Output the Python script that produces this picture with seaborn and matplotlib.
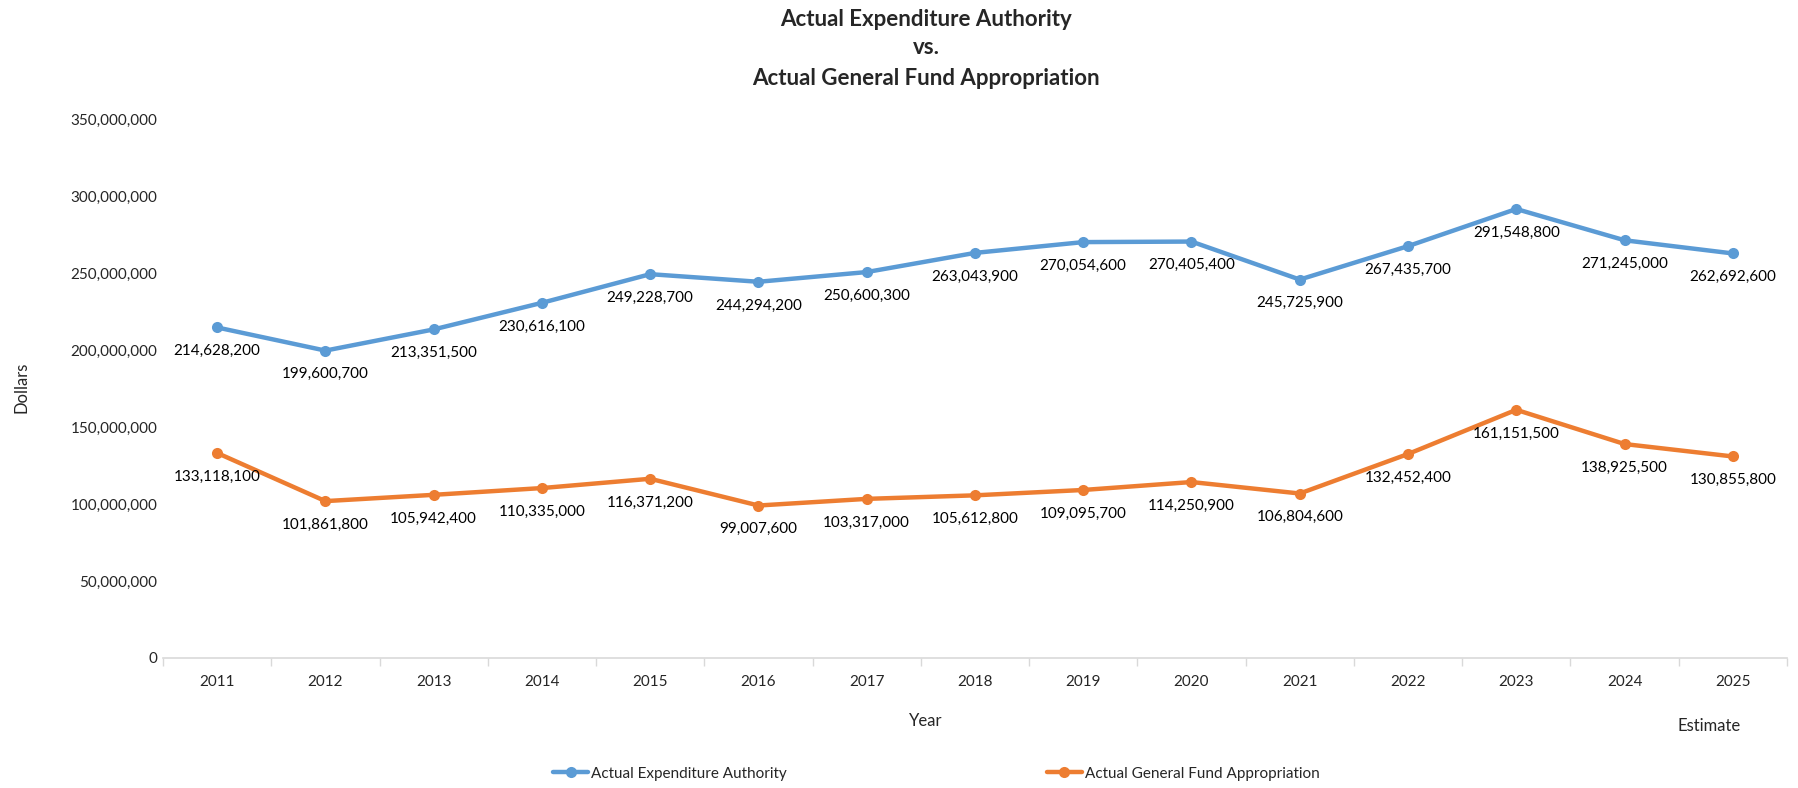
import matplotlib
matplotlib.use("Agg")
import matplotlib.pyplot as plt
from matplotlib.ticker import FuncFormatter, FixedLocator
import seaborn as sns
import pandas as pd

# datos del gráfico
years = ["2011", "2012", "2013", "2014", "2015", "2016", "2017", "2018",
         "2019", "2020", "2021", "2022", "2023", "2024", "2025"]
expenditure = [214628200, 199600700, 213351500, 230616100, 249228700, 244294200,
               250600300, 263043900, 270054600, 270405400, 245725900, 267435700,
               291548800, 271245000, 262692600]
general_fund = [133118100, 101861800, 105942400, 110335000, 116371200, 99007600,
                103317000, 105612800, 109095700, 114250900, 106804600, 132452400,
                161151500, 138925500, 130855800]
series_names = ["Actual Expenditure Authority", "Actual General Fund Appropriation"]
colors = ["#5B9BD5", "#ED7D31"]

sns.set_theme(style="white")
plt.rcParams["font.family"] = ["Lato", "DejaVu Sans"]

pos = list(range(len(years)))
df = pd.DataFrame({
    "pos": pos * 2,
    "valor": expenditure + general_fund,
    "serie": [series_names[0]] * len(years) + [series_names[1]] * len(years),
})

fig = plt.figure(figsize=(17.99, 7.88), dpi=100)
ax = fig.add_axes([0.0906, 0.165, 0.9027, 0.684])

sns.lineplot(data=df, x="pos", y="valor", hue="serie", palette=colors,
             marker="o", markersize=8, markeredgewidth=0, linewidth=3.2, ax=ax,
             legend=False)

# etiquetas de datos debajo de cada punto
for vals in (expenditure, general_fund):
    for x, v in zip(pos, vals):
        ax.annotate(f"{v:,}", (x, v), xytext=(0, -12), textcoords="offset points",
                    ha="center", va="top", fontsize=11, color="#000000")

ax.set_xlim(-0.5, len(years) - 0.5)
ax.set_ylim(0, 350000000)
ax.set_yticks(range(0, 350000001, 50000000))
ax.yaxis.set_major_formatter(FuncFormatter(lambda v, p: f"{int(v):,}"))
ax.set_xticks(pos)
ax.set_xticklabels(years)
ax.xaxis.set_minor_locator(FixedLocator([p - 0.5 for p in pos] + [len(years) - 0.5]))
ax.tick_params(axis="x", which="major", length=0, pad=12, labelsize=11)
ax.tick_params(axis="x", which="minor", length=6, width=1, color="#D9D9D9", bottom=True)
ax.tick_params(axis="y", length=0, pad=4, labelsize=11)

for side in ["top", "right", "left"]:
    ax.spines[side].set_visible(False)
ax.spines["bottom"].set_color("#D9D9D9")
ax.spines["bottom"].set_linewidth(1.2)

ax.set_xlabel("")
ax.set_ylabel("")
fig.text(0.5147, 0.085, "Year", ha="center", va="center", fontsize=12)
fig.text(0.0117, 0.509, "Dollars", ha="center", va="center", rotation=90, fontsize=12)
fig.text(0.950, 0.079, "Estimate", ha="center", va="center", fontsize=12)

fig.text(0.5147, 0.975, "Actual Expenditure Authority", ha="center", va="center",
         fontsize=16, fontweight="bold")
fig.text(0.5147, 0.940, "vs.", ha="center", va="center", fontsize=16, fontweight="bold")
fig.text(0.5147, 0.901, "Actual General Fund Appropriation", ha="center", va="center",
         fontsize=16, fontweight="bold")

# leyenda inferior
handles = [plt.Line2D([], [], color=c, marker="o", markersize=8, markeredgewidth=0,
                      linewidth=3.2) for c in colors]
fig.legend(handles, series_names, loc="center", bbox_to_anchor=(0.5206, 0.018),
           ncol=2, frameon=False, fontsize=11, columnspacing=17, handlelength=2.3,
           handletextpad=0.2)

fig.savefig("out.png", dpi=100)
